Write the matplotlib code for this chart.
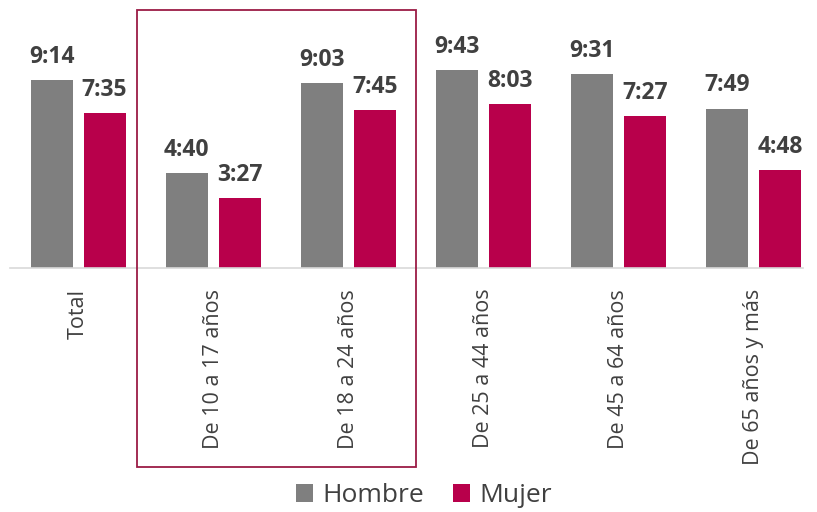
import matplotlib.pyplot as plt
from matplotlib.patches import Rectangle

plt.rcParams['font.family'] = ['Open Sans', 'DejaVu Sans']

categories = ["Total", "De 10 a 17 años", "De 18 a 24 años", "De 25 a 44 años",
              "De 45 a 64 años", "De 65 años y más"]
hombre = ["9:14", "4:40", "9:03", "9:43", "9:31", "7:49"]
mujer = ["7:35", "3:27", "7:45", "8:03", "7:27", "4:48"]


def to_min(s):
    h, m = s.split(":")
    return int(h) * 60 + int(m)


gray = "#7F7F7F"
red = "#B8004B"
txt = "#404040"

W, H = 817, 512
fig = plt.figure(figsize=(W / 100, H / 100), dpi=100)
ax = fig.add_axes([10 / W, (H - 268) / H, (803 - 10) / W, (268 - 10) / H])

x = list(range(len(categories)))
bw = 0.31
off = 0.196
hv = [to_min(v) for v in hombre]
mv = [to_min(v) for v in mujer]
b1 = ax.bar([i - off for i in x], hv, bw, color=gray, label="Hombre")
b2 = ax.bar([i + off for i in x], mv, bw, color=red, label="Mujer")

for bars, labels in ((b1, hombre), (b2, mujer)):
    for b, lab in zip(bars, labels):
        ax.annotate(lab, (b.get_x() + b.get_width() / 2, b.get_height()),
                    xytext=(0, 8), textcoords="offset points", ha="center",
                    va="bottom", fontsize=16.5, fontweight="bold", color=txt)

ax.set_xlim(-68 / 135, 5 + 49 / 135)
ax.set_ylim(0, 258 / 0.34)
ax.set_yticks([])
ax.set_xticks(x)
ax.set_xticklabels(categories, rotation=90, fontsize=15.5, color=txt)
ax.tick_params(axis="x", length=0, pad=15)
for s in ["top", "right", "left"]:
    ax.spines[s].set_visible(False)
ax.spines["bottom"].set_color("#D9D9D9")
ax.spines["bottom"].set_linewidth(1.2)

fig.patches.append(Rectangle((137 / W, (H - 467) / H), (416 - 137) / W, (467 - 10) / H,
                             transform=fig.transFigure, fill=False,
                             edgecolor="#9B1B45", linewidth=1.3))

fig.legend(handles=[b1, b2], loc="center", bbox_to_anchor=(424 / W, (H - 496) / H),
           ncol=2, frameon=False, fontsize=19, handlelength=0.65, handleheight=0.65,
           handletextpad=0.35, columnspacing=1.1, labelcolor=txt)

fig.savefig("out.png", dpi=100)
